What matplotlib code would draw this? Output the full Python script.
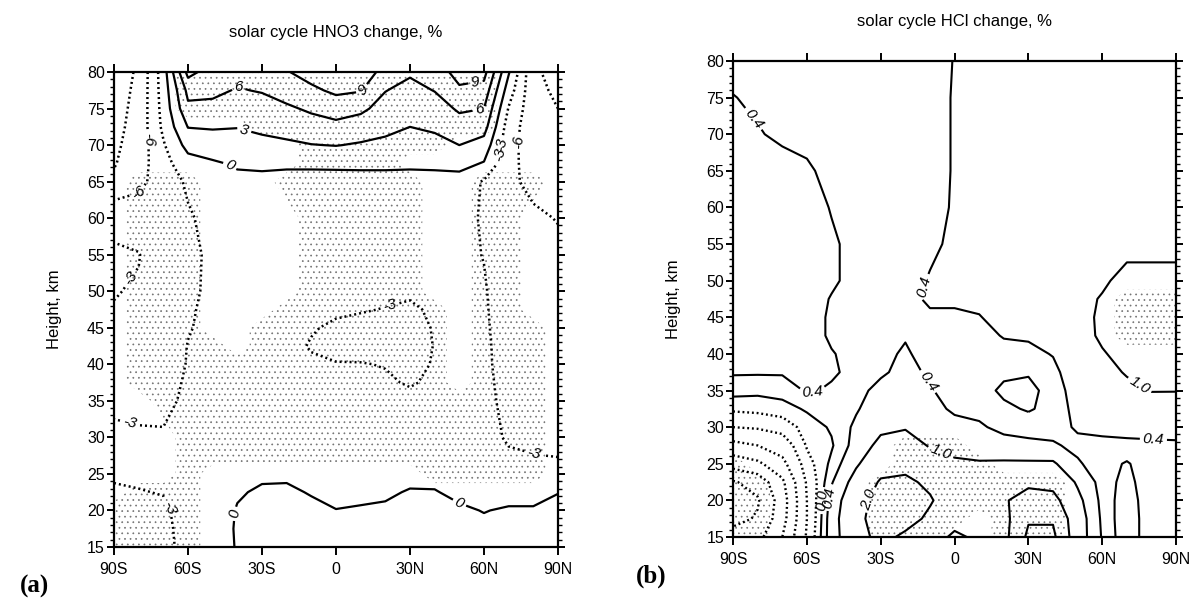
import numpy as np
import matplotlib
matplotlib.use("Agg")
import matplotlib.pyplot as plt
from matplotlib.ticker import MultipleLocator

plt.rcParams['font.family'] = ['Liberation Sans', 'DejaVu Sans']
plt.rcParams['hatch.color'] = '0.45'
plt.rcParams['hatch.linewidth'] = 0.5

LAT = np.arange(-90, 91, 10)
LAT_TICKS = [-90, -60, -30, 0, 30, 60, 90]
LAT_LABELS = ["90S", "60S", "30S", "0", "30N", "60N", "90N"]

# ---------------------------------------------------------------------------
# (a) HNO3 change, % -- one profile per latitude (LAT order), heights HGT_A
# ---------------------------------------------------------------------------
HGT_A = [15, 17.5, 20, 22.5, 25, 27.5, 30, 35, 37.5, 40, 42.5, 45, 47.5, 50,
         55, 60, 65, 67.5, 70, 72.5, 75, 77.5, 80]
HNO3 = [
    [-4.0, -3.7, -3.4, -3.1, -2.9, -2.8, -2.8, -3.2, -3.3, -3.4, -3.4, -3.3, -3.1, -2.9, -2.7, -3.6, -8.5, -9.2, -9.5, -9.8, -10.0, -10.2, -10.5],
    [-3.9, -3.6, -3.3, -3.05, -2.8, -2.7, -2.8, -3.4, -3.6, -3.7, -3.7, -3.6, -3.4, -3.2, -2.9, -4.2, -6.8, -7.4, -7.8, -8.0, -8.2, -8.4, -8.6],
    [-3.6, -3.4, -3.2, -2.95, -2.6, -2.6, -2.8, -3.5, -3.7, -3.9, -4.0, -4.1, -4.2, -4.3, -4.5, -4.6, -4.5, -4.0, -3.3, -2.4, -2.0, -1.7, -1.5],
    [-2.3, -2.4, -2.5, -2.5, -2.3, -2.3, -2.4, -2.6, -2.75, -2.9, -2.95, -3.1, -3.2, -3.4, -3.5, -3.3, -2.6, -1.2, 1.0, 3.1, 5.4, 6.8, 10.0],
    [-1.5, -1.6, -1.8, -2.0, -1.9, -1.9, -2.0, -2.2, -2.3, -2.4, -2.5, -2.6, -2.6, -2.6, -2.6, -2.2, -1.4, -0.3, 1.3, 3.3, 5.3, 6.6, 7.5],
    [0.2, 0.3, 0.2, -0.3, -0.9, -1.4, -1.8, -2.1, -2.2, -2.2, -2.2, -2.1, -2.0, -1.9, -1.6, -1.2, -0.6, 0.3, 1.7, 3.1, 4.6, 5.8, 6.8],
    [1.0, 1.2, 1.0, 0.4, -0.5, -1.2, -1.7, -2.1, -2.2, -2.3, -2.3, -2.2, -2.1, -2.0, -1.8, -1.5, -0.8, 0.6, 2.2, 3.6, 4.8, 6.2, 7.5],
    [1.3, 1.5, 1.2, 0.5, -0.5, -1.3, -1.9, -2.3, -2.4, -2.5, -2.6, -2.5, -2.4, -2.2, -1.9, -1.6, -1.0, 0.5, 2.5, 4.1, 5.6, 7.1, 8.8],
    [1.3, 1.2, 0.7, -0.2, -1.0, -1.6, -2.0, -2.4, -2.6, -2.8, -3.1, -2.9, -2.7, -2.5, -2.1, -1.7, -1.0, 0.5, 2.9, 4.9, 6.4, 8.4, 10.2],
    [1.2, 0.8, 0.05, -0.6, -1.3, -1.8, -2.2, -2.6, -2.8, -2.95, -3.3, -3.2, -2.8, -2.6, -2.2, -1.8, -1.1, 0.6, 3.1, 5.2, 7.3, 9.6, 11.0],
    [1.4, 1.0, 0.2, -0.5, -1.2, -1.8, -2.2, -2.6, -2.8, -2.95, -3.4, -3.4, -2.9, -2.6, -2.2, -1.8, -1.0, 0.6, 2.7, 4.6, 6.6, 9.2, 10.2],
    [1.5, 1.2, 0.4, -0.4, -1.2, -1.8, -2.2, -2.6, -2.85, -3.05, -3.5, -3.5, -3.05, -2.7, -2.2, -1.8, -1.0, 0.6, 2.3, 3.8, 4.9, 6.1, 8.3],
    [1.8, 1.6, 1.1, 0.2, -0.8, -1.6, -2.1, -2.7, -3.1, -3.4, -3.6, -3.5, -3.2, -2.8, -2.3, -1.9, -1.0, 0.5, 1.7, 3.0, 4.0, 5.1, 6.4],
    [1.7, 1.5, 1.0, 0.15, -0.8, -1.6, -2.1, -2.6, -2.8, -2.9, -2.95, -2.9, -2.8, -2.6, -2.3, -1.9, -1.0, 0.6, 2.0, 3.5, 4.7, 6.1, 7.3],
    [1.3, 1.0, 0.4, -0.6, -1.4, -1.9, -2.3, -2.6, -2.65, -2.7, -2.7, -2.7, -2.7, -2.7, -2.6, -2.4, -1.1, 0.9, 3.0, 4.8, 6.4, 8.5, 10.2],
    [1.0, 0.6, -0.1, -1.0, -1.7, -2.1, -2.4, -2.6, -2.65, -2.7, -2.7, -2.75, -2.8, -2.85, -3.05, -3.2, -3.3, -0.2, 1.8, 4.2, 6.0, 7.9, 10.0],
    [1.2, 0.8, 0.3, -1.0, -2.0, -2.8, -3.2, -3.4, -3.5, -3.6, -3.7, -3.8, -3.9, -4.0, -4.5, -5.0, -5.5, -5.3, -5.0, -4.5, -3.2, -1.5, 0.3],
    [0.9, 0.6, 0.3, -1.0, -2.2, -2.95, -3.4, -3.8, -3.9, -4.0, -4.1, -4.2, -4.3, -4.5, -5.0, -5.6, -6.6, -7.0, -7.5, -7.8, -8.0, -8.2, -8.5],
    [1.0, 0.8, 0.5, -0.05, -2.4, -3.05, -3.3, -3.8, -4.0, -4.2, -4.4, -4.5, -4.7, -5.0, -5.5, -6.1, -7.5, -8.0, -8.5, -8.8, -9.0, -9.5, -10.0],
]
# stippled (significant) points, same layout
SIG_A = [
    [1, 1, 1, 0, 0, 0, 0, 0, 0, 0, 0, 0, 0, 0, 0, 0, 0, 0, 0, 0, 0, 0, 0],
    [1, 1, 1, 1, 0, 0, 0, 0, 1, 1, 1, 1, 1, 1, 1, 1, 1, 0, 0, 0, 0, 0, 0],
    [1, 1, 1, 1, 0, 0, 0, 1, 1, 1, 1, 1, 1, 1, 1, 1, 1, 0, 0, 0, 0, 0, 0],
    [1, 1, 1, 1, 1, 1, 1, 1, 1, 1, 1, 1, 1, 1, 1, 1, 1, 0, 0, 0, 1, 1, 1],
    [0, 0, 0, 0, 0, 1, 1, 1, 1, 1, 1, 0, 0, 0, 0, 0, 0, 0, 0, 0, 1, 1, 1],
    [0, 0, 0, 0, 0, 1, 1, 1, 1, 1, 0, 0, 0, 0, 0, 0, 0, 0, 0, 0, 1, 1, 1],
    [0, 0, 0, 0, 0, 1, 1, 1, 1, 1, 1, 1, 0, 0, 0, 0, 0, 0, 0, 1, 1, 1, 1],
    [0, 0, 0, 0, 0, 1, 1, 1, 1, 1, 1, 1, 1, 0, 0, 0, 1, 0, 0, 1, 1, 1, 1],
    [0, 0, 0, 0, 0, 1, 1, 1, 1, 1, 1, 1, 1, 1, 1, 1, 1, 1, 1, 1, 1, 1, 1],
    [0, 0, 0, 0, 0, 1, 1, 1, 1, 1, 1, 1, 1, 1, 1, 1, 1, 1, 1, 1, 1, 1, 1],
    [0, 0, 0, 0, 0, 1, 1, 1, 1, 1, 1, 1, 1, 1, 1, 1, 1, 1, 1, 1, 1, 1, 1],
    [0, 0, 0, 0, 0, 1, 1, 1, 1, 1, 1, 1, 1, 1, 1, 1, 1, 1, 1, 1, 1, 1, 1],
    [0, 0, 0, 0, 0, 1, 1, 1, 1, 1, 1, 1, 1, 1, 1, 1, 1, 0, 1, 1, 1, 1, 1],
    [0, 0, 0, 0, 1, 1, 1, 1, 1, 1, 1, 1, 1, 0, 0, 0, 0, 0, 1, 1, 1, 1, 1],
    [0, 0, 0, 0, 1, 1, 1, 1, 0, 0, 0, 0, 0, 0, 0, 0, 0, 0, 0, 1, 1, 1, 1],
    [0, 0, 0, 0, 1, 1, 1, 1, 1, 1, 1, 1, 1, 1, 1, 1, 1, 0, 0, 1, 1, 1, 1],
    [0, 0, 0, 0, 1, 1, 1, 1, 1, 1, 1, 1, 1, 1, 1, 1, 1, 0, 0, 0, 0, 0, 0],
    [0, 0, 0, 0, 1, 1, 1, 1, 1, 1, 1, 1, 0, 0, 0, 0, 1, 0, 0, 0, 0, 0, 0],
    [0, 0, 0, 0, 0, 0, 0, 0, 0, 0, 0, 0, 0, 0, 0, 0, 0, 0, 0, 0, 0, 0, 0],
]
LEVELS_A = [-9, -6, -3, 0, 3, 6, 9]
LABELS_A = [(-79, 70.7), (-78, 62.7), (-81, 51.3), (-83, 33), (22, 47.9),
            (80, 27.4), (-67, 20.5), (68, 70), (73.5, 70.5),
            (-39, 78.6), (11, 77.5), (57, 77.7), (58.5, 74.2), (-37, 72.3),
            (-43, 67.2), (65, 70), (-43, 19.6), (50, 21)]

# ---------------------------------------------------------------------------
# (b) HCl change, %
# ---------------------------------------------------------------------------
HGT_B = [15, 17.5, 20, 22.5, 25, 27.5, 30, 32.5, 35, 37.5, 40, 42.5, 45, 47.5,
         50, 55, 60, 65, 70, 75, 80]
HCL = [
    [-4.6, -5.3, -5.6, -5.1, -3.6, -2.3, -1.0, -0.3, 0.15, 0.45, 0.55, 0.6, 0.6, 0.6, 0.6, 0.6, 0.55, 0.5, 0.45, 0.41, 0.3],
    [-4.3, -4.9, -5.1, -4.6, -3.2, -2.0, -0.9, -0.25, 0.1, 0.45, 0.6, 0.65, 0.65, 0.65, 0.65, 0.6, 0.55, 0.5, 0.42, 0.35, 0.3],
    [-3.0, -3.4, -3.5, -3.2, -2.3, -1.5, -0.7, -0.15, 0.15, 0.45, 0.6, 0.65, 0.65, 0.65, 0.65, 0.6, 0.55, 0.5, 0.35, 0.3, 0.3],
    [-0.9, -1.0, -1.0, -0.9, -0.6, -0.35, -0.2, 0.05, 0.45, 0.6, 0.6, 0.55, 0.55, 0.55, 0.6, 0.6, 0.55, 0.45, 0.3, 0.3, 0.3],
    [0.7, 0.7, 0.6, 0.35, 0.1, -0.05, 0.05, 0.2, 0.35, 0.45, 0.42, 0.35, 0.35, 0.38, 0.45, 0.45, 0.38, 0.3, 0.3, 0.3, 0.3],
    [1.6, 1.7, 1.6, 1.3, 0.9, 0.6, 0.5, 0.35, 0.3, 0.3, 0.3, 0.3, 0.3, 0.3, 0.3, 0.3, 0.3, 0.3, 0.3, 0.3, 0.3],
    [2.3, 2.5, 2.4, 2.1, 1.6, 1.2, 0.85, 0.7, 0.5, 0.35, 0.3, 0.25, 0.25, 0.25, 0.25, 0.25, 0.25, 0.25, 0.25, 0.25, 0.3],
    [1.8, 2.4, 2.5, 2.2, 1.7, 1.3, 0.95, 0.75, 0.6, 0.5, 0.45, 0.37, 0.3, 0.3, 0.3, 0.3, 0.3, 0.3, 0.3, 0.3, 0.3],
    [1.5, 1.8, 2.1, 1.8, 1.3, 0.95, 0.7, 0.5, 0.43, 0.35, 0.25, 0.25, 0.35, 0.45, 0.42, 0.35, 0.3, 0.3, 0.3, 0.3, 0.3],
    [2.2, 1.6, 1.4, 1.3, 1.1, 0.8, 0.5, 0.35, 0.25, 0.2, 0.2, 0.3, 0.35, 0.45, 0.5, 0.45, 0.43, 0.42, 0.42, 0.42, 0.41],
    [1.8, 1.5, 1.4, 1.3, 1.05, 0.75, 0.45, 0.3, 0.2, 0.2, 0.25, 0.3, 0.38, 0.5, 0.55, 0.55, 0.55, 0.5, 0.5, 0.5, 0.5],
    [1.7, 1.7, 1.9, 1.5, 1.1, 0.55, 0.3, 0.1, -0.1, 0.1, 0.3, 0.42, 0.55, 0.6, 0.6, 0.6, 0.55, 0.55, 0.55, 0.55, 0.55],
    [3.2, 2.9, 2.4, 1.8, 1.1, 0.5, 0.25, -0.05, -0.15, 0.05, 0.3, 0.45, 0.6, 0.65, 0.65, 0.65, 0.6, 0.6, 0.6, 0.6, 0.6],
    [3.2, 2.9, 2.3, 1.7, 1.1, 0.45, 0.25, 0.15, 0.2, 0.3, 0.42, 0.5, 0.6, 0.65, 0.65, 0.6, 0.6, 0.6, 0.6, 0.6, 0.6],
    [1.4, 1.4, 1.2, 0.9, 0.45, 0.3, 0.45, 0.55, 0.6, 0.65, 0.7, 0.75, 0.8, 0.8, 0.75, 0.7, 0.65, 0.6, 0.6, 0.6, 0.6],
    [0.35, 0.3, 0.25, 0.2, 0.2, 0.3, 0.5, 0.6, 0.7, 0.8, 0.95, 1.1, 1.1, 1.05, 0.9, 0.75, 0.65, 0.6, 0.6, 0.6, 0.6],
    [-0.3, -0.3, -0.25, -0.15, -0.05, 0.3, 0.55, 0.7, 0.85, 1.05, 1.2, 1.3, 1.3, 1.3, 1.2, 0.8, 0.7, 0.6, 0.6, 0.6, 0.6],
    [0.3, 0.3, 0.3, 0.3, 0.3, 0.35, 0.5, 0.75, 1.02, 1.2, 1.3, 1.4, 1.5, 1.4, 1.2, 0.8, 0.7, 0.6, 0.6, 0.6, 0.6],
    [0.3, 0.3, 0.3, 0.3, 0.3, 0.38, 0.45, 0.7, 1.02, 1.2, 1.3, 1.4, 1.5, 1.4, 1.2, 0.8, 0.7, 0.6, 0.6, 0.6, 0.6],
]
SIG_B = [
    [1, 1, 1, 1, 1, 0, 0, 0, 0, 0, 0, 0, 0, 0, 0, 0, 0, 0, 0, 0, 0],
    [1, 1, 1, 1, 0, 0, 0, 0, 0, 0, 0, 0, 0, 0, 0, 0, 0, 0, 0, 0, 0],
    [0, 0, 0, 0, 0, 0, 0, 0, 0, 0, 0, 0, 0, 0, 0, 0, 0, 0, 0, 0, 0],
    [0, 0, 0, 0, 0, 0, 0, 0, 0, 0, 0, 0, 0, 0, 0, 0, 0, 0, 0, 0, 0],
    [0, 0, 0, 0, 0, 0, 0, 0, 0, 0, 0, 0, 0, 0, 0, 0, 0, 0, 0, 0, 0],
    [0, 0, 0, 0, 0, 0, 0, 0, 0, 0, 0, 0, 0, 0, 0, 0, 0, 0, 0, 0, 0],
    [1, 1, 1, 1, 0, 0, 0, 0, 0, 0, 0, 0, 0, 0, 0, 0, 0, 0, 0, 0, 0],
    [1, 1, 1, 1, 1, 1, 0, 0, 0, 0, 0, 0, 0, 0, 0, 0, 0, 0, 0, 0, 0],
    [1, 1, 1, 1, 1, 1, 0, 0, 0, 0, 0, 0, 0, 0, 0, 0, 0, 0, 0, 0, 0],
    [0, 1, 1, 1, 1, 1, 0, 0, 0, 0, 0, 0, 0, 0, 0, 0, 0, 0, 0, 0, 0],
    [0, 0, 1, 1, 1, 0, 0, 0, 0, 0, 0, 0, 0, 0, 0, 0, 0, 0, 0, 0, 0],
    [1, 1, 1, 1, 0, 0, 0, 0, 0, 0, 0, 0, 0, 0, 0, 0, 0, 0, 0, 0, 0],
    [1, 1, 1, 1, 0, 0, 0, 0, 0, 0, 0, 0, 0, 0, 0, 0, 0, 0, 0, 0, 0],
    [1, 1, 1, 1, 0, 0, 0, 0, 0, 0, 0, 0, 0, 0, 0, 0, 0, 0, 0, 0, 0],
    [0, 0, 0, 0, 0, 0, 0, 0, 0, 0, 0, 0, 0, 0, 0, 0, 0, 0, 0, 0, 0],
    [0, 0, 0, 0, 0, 0, 0, 0, 0, 0, 0, 0, 0, 0, 0, 0, 0, 0, 0, 0, 0],
    [0, 0, 0, 0, 0, 0, 0, 0, 0, 0, 0, 1, 1, 1, 0, 0, 0, 0, 0, 0, 0],
    [0, 0, 0, 0, 0, 0, 0, 0, 0, 0, 0, 1, 1, 1, 0, 0, 0, 0, 0, 0, 0],
    [0, 0, 0, 0, 0, 0, 0, 0, 0, 0, 0, 1, 1, 1, 0, 0, 0, 0, 0, 0, 0],
]
LEVELS_B = [-5, -4, -3, -2, -1, -0.4, 0.0, 0.4, 1.0, 2.0, 3.0]
LABELS_B = [(-84, 71.5), (-12.9, 49.2), (-57.6, 34.4), (-10.1, 36.4),
            (-5.4, 26.8), (-37, 20.5), (-55, 20), (-52.5, 20.5),
            (76.4, 36.4), (81, 30.5)]


def draw_panel(ax, hgt, field, sig, levels, label_pos, fmt, title, lw):
    z = np.array(field).T                      # (height, lat)
    ax.contourf(LAT, hgt, np.array(sig).T, levels=[0.5, 1.5],
                colors='none', hatches=['...'])
    neg = [v for v in levels if v < 0]
    pos = [v for v in levels if v >= 0]
    cn = ax.contour(LAT, hgt, z, levels=neg, colors='k', linewidths=lw + 0.2,
                    linestyles=[(0, (0.8, 1.2))])
    cp = ax.contour(LAT, hgt, z, levels=pos, colors='k', linewidths=lw,
                    linestyles='-')

    # each label goes on the dotted or solid set depending on the local sign
    texts = []
    for cs, want_neg in ((cn, True), (cp, False)):
        mine = []
        for (x, y) in label_pos:
            iy = int(round(np.interp(y, hgt, np.arange(len(hgt)))))
            ix = int(round(np.interp(x, LAT, np.arange(len(LAT)))))
            if (z[iy, ix] < 0) == want_neg:
                mine.append((x, y))
        if mine:
            texts += cs.clabel(manual=mine, fmt=fmt, fontsize=11,
                               inline=True, inline_spacing=3)
    for t in texts:
        t.set_fontstyle('italic')

    ax.set_xlim(-90, 90)
    ax.set_ylim(15, 80)
    ax.set_xticks(LAT_TICKS)
    ax.set_xticklabels(LAT_LABELS)
    ax.set_yticks(np.arange(15, 81, 5))
    ax.yaxis.set_minor_locator(MultipleLocator(1))
    ax.tick_params(axis='x', which='major', direction='out', length=6,
                   width=1.4, top=True, bottom=True, labelsize=11.5, pad=5)
    ax.tick_params(axis='y', which='major', direction='out', length=5,
                   width=1.4, left=True, right=True, labelsize=11.5, pad=1.5)
    ax.tick_params(axis='y', which='minor', direction='out', length=3,
                   width=1.0, left=True, right=True)
    for sp in ax.spines.values():
        sp.set_linewidth(1.6)
    ax.set_ylabel("Height, km", fontsize=12)
    ax.yaxis.set_label_coords(-0.118, 0.5)
    ax.set_title(title, fontsize=12, pad=25)


fig = plt.figure(figsize=(11.91, 6.05), dpi=100)
ax_a = fig.add_axes([0.0957, 0.0959, 0.3728, 0.785])
ax_b = fig.add_axes([0.6155, 0.1124, 0.372, 0.7868])

draw_panel(ax_a, HGT_A, HNO3, SIG_A, LEVELS_A, LABELS_A,
           lambda v: f"{v:.0f}", "solar cycle HNO3 change, %", 1.6)
draw_panel(ax_b, HGT_B, HCL, SIG_B, LEVELS_B, LABELS_B,
           lambda v: f"{v:.1f}", "solar cycle HCl change, %", 1.5)

fig.text(0.029, 0.030, "(a)", family=['Liberation Serif', 'DejaVu Serif'],
         weight='bold', fontsize=18, ha='center', va='center')
fig.text(0.547, 0.048, "(b)", family=['Liberation Serif', 'DejaVu Serif'],
         weight='bold', fontsize=18, ha='center', va='center')

fig.savefig("out.png", dpi=100)
